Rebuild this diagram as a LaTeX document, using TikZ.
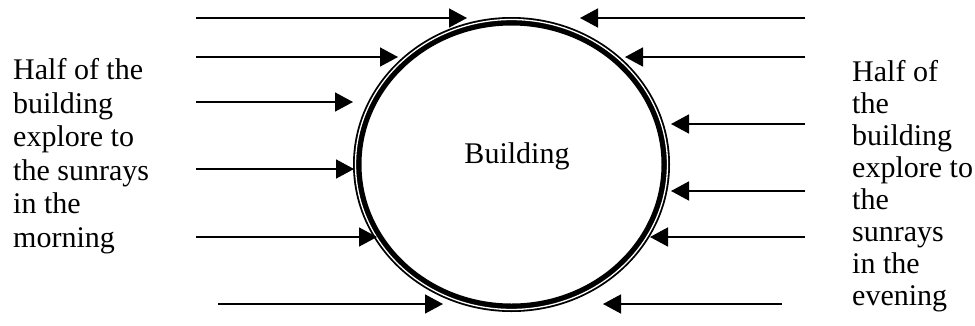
\documentclass[tikz,border=0pt]{standalone}
\usepackage{fontspec}
\setmainfont{Liberation Serif}
\usetikzlibrary{arrows.meta}
\tikzset{
  ray/.style={line width=1.6pt, -{Triangle[length=18pt,width=19pt]}},
  lbl/.style={inner sep=0pt, align=left, font=\fontsize{30}{33.5}\selectfont},
  rlbl/.style={inner sep=0pt, align=left, font=\fontsize{30}{32}\selectfont},
}
\begin{document}
\begin{tikzpicture}[x=1pt,y=1pt]
\useasboundingbox (0,0) rectangle (975,-325);
% building ring
\coordinate (c) at (511.5,-164.5);
\draw[black, line width=8.5pt] (c) ellipse [x radius=154.25pt, y radius=143.25pt];
\draw[white, line width=1.3pt] (c) ellipse [x radius=156pt, y radius=145pt];
\node[lbl, anchor=base] (bld) at (517,-163) {Building};
% left rays
\coordinate (l1s) at (196,-18);  \coordinate (l1e) at (467,-18);
\coordinate (l2s) at (196,-57);  \coordinate (l2e) at (398,-57);
\coordinate (l3s) at (196,-102); \coordinate (l3e) at (353,-102);
\coordinate (l4s) at (196,-169); \coordinate (l4e) at (354,-169);
\coordinate (l5s) at (196,-237); \coordinate (l5e) at (377,-237);
\coordinate (l6s) at (218,-304); \coordinate (l6e) at (443,-304);
\foreach \i in {1,...,6} \draw[ray] (l\i s) -- (l\i e);
% right rays
\coordinate (r1s) at (805,-18);  \coordinate (r1e) at (580,-18);
\coordinate (r2s) at (805,-57);  \coordinate (r2e) at (625,-57);
\coordinate (r3s) at (805,-124); \coordinate (r3e) at (671,-124);
\coordinate (r4s) at (805,-191); \coordinate (r4e) at (671,-191);
\coordinate (r5s) at (805,-237); \coordinate (r5e) at (650,-237);
\coordinate (r6s) at (782,-304); \coordinate (r6e) at (603,-304);
\foreach \i in {1,...,6} \draw[ray] (r\i s) -- (r\i e);
% texts
\node[lbl, anchor=north west] (morning) at (13,-58.5)
  {Half of the\\building\\explore to\\the sunrays\\in the\\morning};
\node[rlbl, anchor=north west] (evening) at (852,-60)
  {Half of\\the\\building\\explore to\\the\\sunrays\\in the\\evening};
\end{tikzpicture}
\end{document}
